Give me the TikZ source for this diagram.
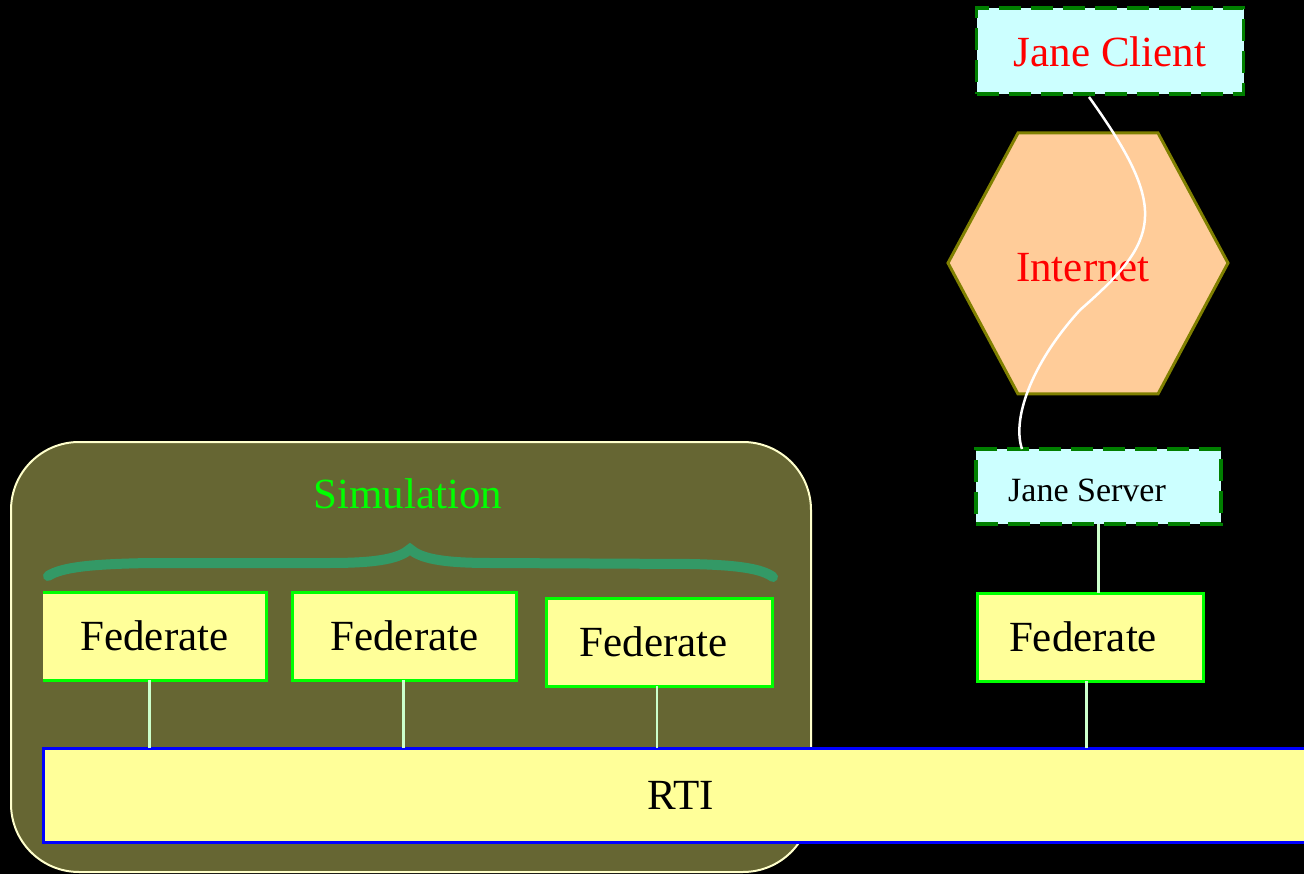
\documentclass[tikz,border=0pt]{standalone}
\usepackage{fontspec}
\setmainfont{Liberation Serif}
\usetikzlibrary{calc}
\definecolor{clientfill}{HTML}{CCFFFF}
\definecolor{dashgreen}{HTML}{007F00}
\definecolor{hexfill}{HTML}{FFCC99}
\definecolor{hexline}{HTML}{808000}
\definecolor{fedfill}{HTML}{FFFF99}
\definecolor{fedline}{HTML}{00FF00}
\definecolor{simfill}{HTML}{666633}
\definecolor{simline}{HTML}{FFFFCC}
\definecolor{bracecol}{HTML}{339966}
\definecolor{linkcol}{HTML}{CCFFCC}
\definecolor{rtiline}{HTML}{0000FF}
\newcommand\bigtxt{\fontsize{43}{48}\selectfont}
\newcommand\midtxt{\fontsize{34}{38}\selectfont}
\begin{document}
\begin{tikzpicture}[x=1pt,y=-1pt,
  box/.style={rectangle, inner sep=0pt, outer sep=0pt},
  janebox/.style={box, fill=clientfill, draw=dashgreen, line width=3.5pt, dash pattern=on 22pt off 10pt},
  fedbox/.style={box, fill=fedfill, draw=fedline, line width=3pt, minimum width=224pt, minimum height=88pt, font=\bigtxt},
  link/.style={draw=linkcol, line width=2.5pt},
  lbl/.style={inner sep=0pt, font=\bigtxt}]
\fill[black] (0,0) rectangle (1304,874);
\clip (0,0) rectangle (1304,874);
% simulation container
\draw[fill=simfill, draw=simline, line width=2pt, rounded corners=68pt] (11,442) rectangle (811,872);
\node[lbl, text=fedline] (simlbl) at (408,494) {Simulation};
% brace
\draw[bracecol, line width=10pt, line cap=round]
  (48,576) .. controls (62,567) and (92,564) .. (150,563) -- (330,563)
  .. controls (380,563) and (400,558) .. (410,549)
  .. controls (420,558) and (440,563) .. (490,563) -- (690,564)
  .. controls (740,565) and (762,569) .. (773,577);
% federates in simulation
\node[fedbox, draw=none] (f1) at (154.5,636) {Federate};
\draw[fedline, line width=3pt] (f1.north west) -- (f1.north east) -- (f1.south east) -- (f1.south west);
\node[fedbox] (f2) at (404.5,636) {Federate};
\node[fedbox, minimum width=226pt] (f3) at (659,642) {\hspace*{-10pt}Federate};
% RTI
\node[box, fill=fedfill, draw=rtiline, line width=3pt, minimum width=1275pt, minimum height=94pt, font=\bigtxt] (rti) at (680.5,795) {RTI};
% Jane side
\node[janebox, minimum width=267pt, minimum height=86pt] (client) at (1110,51) {};
\node[lbl, text=red] (clientlbl) at (1110,52) {Jane Client};
\filldraw[fill=hexfill, draw=hexline, line width=3pt]
  (1018,133) -- (1158,133) -- (1228,263) -- (1158,394) -- (1018,394) -- (948,263) -- cycle;
\node[lbl, text=red] (net) at (1083,268) {Internet};
\node[janebox, minimum width=245pt, minimum height=75pt] (server) at (1098.5,486.5) {};
\node[lbl, font=\midtxt] (serverlbl) at (1087,490) {Jane Server};
\node[fedbox, minimum width=226pt] (f4) at (1090.5,637) {\hspace*{-15pt}Federate};
% links
\draw[link] (server.south) -- (server.south |- f4.north);
\draw[link] ($(f4.south)+(-4,0)$) -- ($(f4.south |- rti.north)+(-4,0)$);
\draw[link] ($(f1.south)+(-5,0)$) -- ($(f1.south |- rti.north)+(-5,0)$);
\draw[link] ($(f2.south)+(-1,0)$) -- ($(f2.south |- rti.north)+(-1,0)$);
\draw[link] ($(f3.south)+(-2,0)$) -- ($(f3.south |- rti.north)+(-2,0)$);
% internet connection
\draw[white, line width=2.5pt] ($(client.south)+(-21,3)$)
  .. controls (1170,210) and (1160,240) .. (1080,310)
  .. controls (1030,365) and (1012,420) .. ($(server.north west)+(46,0)$);
\end{tikzpicture}
\end{document}
